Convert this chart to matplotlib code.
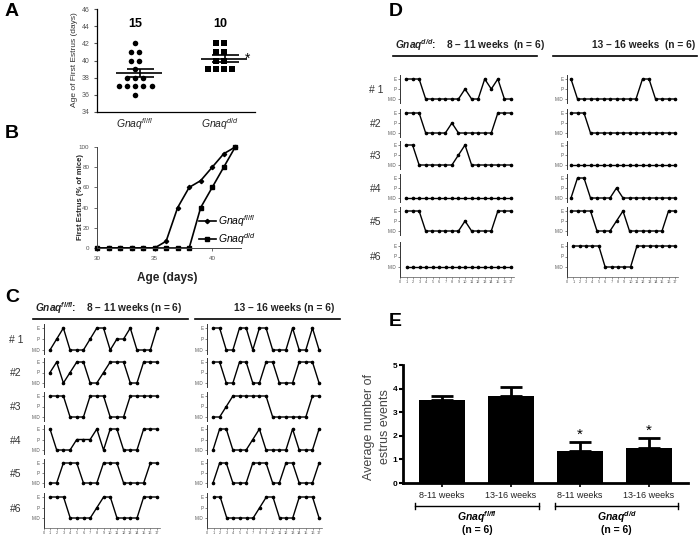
import numpy as np
import matplotlib.pyplot as plt
import matplotlib.transforms as mtransforms

plt.rcParams['font.family'] = ['Liberation Sans', 'DejaVu Sans']
plt.rcParams['mathtext.fontset'] = 'custom'
plt.rcParams['mathtext.rm'] = 'Liberation Sans'
plt.rcParams['mathtext.it'] = 'Liberation Sans:italic'
plt.rcParams['mathtext.bf'] = 'Liberation Sans:bold:italic'

# ---- A: age at first estrus (days), one value per mouse ----
age_flfl = [42, 41, 41, 40, 40, 39, 38, 38, 38, 37, 37, 37, 37, 37, 36]
age_dd = [42, 42, 41, 41, 40, 40, 39, 39, 39, 39]

# ---- B: cumulative % of mice that reached first estrus ----
age_days = [30, 31, 32, 33, 34, 35, 36, 37, 38, 39, 40, 41, 42]
pct_flfl = [0, 0, 0, 0, 0, 0, 6.7, 40, 60, 66.7, 80, 93.3, 100]
pct_dd = [0, 0, 0, 0, 0, 0, 0, 0, 0, 40, 60, 80, 100]

# ---- C / D: daily cycle stage, 0 = M-D, 1 = P, 2 = E ----
cycle_days = list(range(1, 18))
stage_labels = ['M-D', 'P', 'E']

flfl_8_11 = [
    [0, 1, 2, 0, 0, 0, 1, 2, 2, 0, 1, 1, 2, 0, 0, 0, 2],
    [1, 2, 0, 1, 2, 2, 0, 0, 1, 2, 2, 2, 0, 0, 2, 2, 2],
    [2, 2, 2, 0, 0, 0, 2, 2, 2, 0, 0, 0, 2, 2, 2, 2, 2],
    [2, 0, 0, 0, 1, 1, 1, 2, 0, 2, 2, 0, 0, 0, 2, 2, 2],
    [0, 0, 2, 2, 2, 0, 0, 0, 2, 2, 2, 0, 0, 0, 0, 2, 2],
    [2, 2, 2, 0, 0, 0, 0, 1, 2, 2, 0, 0, 0, 0, 2, 2, 2],
]
flfl_13_16 = [
    [2, 2, 0, 0, 2, 2, 0, 2, 2, 0, 0, 0, 2, 0, 0, 2, 0],
    [2, 2, 0, 0, 2, 2, 0, 0, 2, 2, 0, 0, 0, 2, 2, 2, 0],
    [0, 0, 1, 2, 2, 2, 2, 2, 2, 0, 0, 0, 0, 0, 0, 2, 2],
    [0, 2, 2, 0, 0, 0, 1, 2, 0, 0, 0, 0, 2, 0, 0, 0, 2],
    [0, 2, 2, 0, 0, 0, 2, 2, 2, 0, 0, 2, 2, 0, 0, 0, 2],
    [2, 2, 0, 0, 0, 0, 0, 1, 2, 2, 0, 0, 0, 2, 2, 2, 0],
]
dd_8_11 = [
    [2, 2, 2, 0, 0, 0, 0, 0, 0, 1, 0, 0, 2, 1, 2, 0, 0],
    [2, 2, 2, 0, 0, 0, 0, 1, 0, 0, 0, 0, 0, 0, 2, 2, 2],
    [2, 2, 0, 0, 0, 0, 0, 0, 1, 2, 0, 0, 0, 0, 0, 0, 0],
    [0, 0, 0, 0, 0, 0, 0, 0, 0, 0, 0, 0, 0, 0, 0, 0, 0],
    [2, 2, 2, 0, 0, 0, 0, 0, 0, 1, 0, 0, 0, 0, 2, 2, 2],
    [0, 0, 0, 0, 0, 0, 0, 0, 0, 0, 0, 0, 0, 0, 0, 0, 0],
]
dd_13_16 = [
    [2, 0, 0, 0, 0, 0, 0, 0, 0, 0, 0, 2, 2, 0, 0, 0, 0],
    [2, 2, 2, 0, 0, 0, 0, 0, 0, 0, 0, 0, 0, 0, 0, 0, 0],
    [0, 0, 0, 0, 0, 0, 0, 0, 0, 0, 0, 0, 0, 0, 0, 0, 0],
    [0, 2, 2, 0, 0, 0, 0, 1, 0, 0, 0, 0, 0, 0, 0, 0, 0],
    [2, 2, 2, 2, 0, 0, 0, 1, 2, 0, 0, 0, 0, 0, 0, 2, 2],
    [2, 2, 2, 2, 2, 0, 0, 0, 0, 0, 2, 2, 2, 2, 2, 2, 2],
]
mouse_ids = ['# 1', '#2', '#3', '#4', '#5', '#6']

# ---- E: average number of estrus events ----
e_labels = ['8-11 weeks', '13-16 weeks', '8-11 weeks', '13-16 weeks']
e_mean = [3.5, 3.67, 1.35, 1.5]
e_sem = [0.2, 0.4, 0.38, 0.42]
e_star = [False, False, True, True]

W, H = 700, 541
fig = plt.figure(figsize=(7, 5.41), dpi=100)
fig.patch.set_facecolor('white')
TICK = '#555555'


def rect(x0, y0, x1, y1):
    # pixel box (y measured from top) -> figure fraction
    return [x0 / W, 1 - y1 / H, (x1 - x0) / W, (y1 - y0) / H]


def ftext(x, y, s, **kw):
    kw.setdefault('ha', 'center')
    kw.setdefault('va', 'center')
    fig.text(x / W, 1 - y / H, s, **kw)


def fline(x0, x1, y, lw=1.2):
    fig.add_artist(plt.Line2D([x0 / W, x1 / W], [1 - y / H, 1 - y / H],
                              color='black', lw=lw))


# panel letters
for letter, x, y in [('A', 12, 12), ('B', 12, 133), ('C', 12, 297),
                     ('D', 396, 12), ('E', 395, 322)]:
    ftext(x, y, letter, fontsize=14, fontweight='bold')

# ====================== A ======================
axA = fig.add_axes(rect(97, 9, 255, 112))
axA.set_xlim(0.553, 2.41)
axA.set_ylim(34, 46)
for pos, vals, mk in [(1, age_flfl, 'o'), (2, age_dd, 's')]:
    vals = np.array(vals, dtype=float)
    for v in np.unique(vals):
        k = int((vals == v).sum())
        xs = pos + (np.arange(k) - (k - 1) / 2) * 0.097
        axA.plot(xs, [v] * k, mk, color='black', ms=4.0, mew=0)
    m = vals.mean()
    se = vals.std(ddof=1) / np.sqrt(len(vals))
    axA.hlines(m, pos - 0.22, pos + 0.32, color='black', lw=1.2)
    axA.hlines([m - se, m + se], pos - 0.1, pos + 0.22, color='black', lw=1.2)
    axA.vlines(pos + 0.06, m - se, m + se, color='black', lw=1.2)
    axA.text(pos, 44.3, str(len(vals)), ha='center', va='center',
             fontsize=9, fontweight='bold')
axA.text(2.32, 40.15, '*', ha='center', va='center', fontsize=10)
axA.set_yticks(range(34, 47, 2))
axA.set_xticks([1, 2])
axA.set_xticklabels([r'$\mathit{Gnaq}^{\mathit{fl/fl}}$', r'$\mathit{Gnaq}^{\mathit{d/d}}$'],
                    fontsize=7.5)
axA.tick_params(axis='y', labelsize=5, colors=TICK, length=2, width=0.8)
axA.tick_params(axis='x', length=0, pad=3, labelcolor='#222222')
for s in ['top', 'right']:
    axA.spines[s].set_visible(False)
for s in ['left', 'bottom']:
    axA.spines[s].set_linewidth(0.9)
ftext(74, 60, 'Age of First Estrus (days)', rotation=90, fontsize=6, color='#333333')

# ====================== B ======================
axB = fig.add_axes(rect(97, 147, 241, 248))
axB.set_xlim(30, 42.5)
axB.set_ylim(0, 100)
axB.plot(age_days, pct_flfl, '-D', color='black', lw=1.2, ms=2.2,
         clip_on=False, label=r'$\mathit{Gnaq}^{\mathit{fl/fl}}$')
axB.plot(age_days, pct_dd, '-s', color='black', lw=1.2, ms=2.4,
         clip_on=False, label=r'$\mathit{Gnaq}^{\mathit{d/d}}$')
axB.set_xticks([30, 35, 40])
axB.set_yticks(range(0, 101, 20))
axB.tick_params(labelsize=4.5, colors=TICK, length=2, width=0.6)
for s in ['top', 'right']:
    axB.spines[s].set_visible(False)
for s in ['left', 'bottom']:
    axB.spines[s].set_linewidth(0.7)
    axB.spines[s].set_color('#444444')
axB.legend(loc='lower left', bbox_to_anchor=(199 / W, 1 - 247 / H),
           bbox_transform=fig.transFigure, frameon=False, fontsize=7.5,
           handlelength=1.6, handletextpad=0.2, labelspacing=0.25,
           borderpad=0, borderaxespad=0)
ftext(80, 197, 'First Estrus (% of mice)', rotation=90, fontsize=5.5,
      fontweight='bold', color='#222222')
ftext(167, 278, 'Age (days)', fontsize=8.5, fontweight='bold', color='#222222')


# ====================== C / D rows ======================
def cycle_rows(data, x_spine, x_d1, step, e_ys, md_ys, y_axis):
    x_lo = 1 - (x_d1 - x_spine) / step
    x_right = x_d1 + 16.5 * step
    for i, (vals, ye, ym) in enumerate(zip(data, e_ys, md_ys)):
        unit = (ym - ye) / 2
        last = i == len(data) - 1
        y_bot = y_axis if last else ym + 0.4 * unit
        y_top = ye - 0.4 * unit
        ax = fig.add_axes(rect(x_spine, y_top, x_right, y_bot))
        ax.set_xlim(x_lo, 17.5)
        ax.set_ylim(-(y_bot - ym) / unit, 2 + (ye - y_top) / unit)
        ax.plot(cycle_days, vals, '-o', color='black', lw=1.0, ms=1.6,
                clip_on=False)
        ax.set_yticks([0, 1, 2])
        ax.set_yticklabels(stage_labels)
        ax.tick_params(axis='y', labelsize=3.3, colors=TICK, length=1.5,
                       width=0.5, pad=1)
        for s in ['top', 'right']:
            ax.spines[s].set_visible(False)
        ax.spines['left'].set_linewidth(0.7)
        ax.spines['left'].set_color('#333333')
        if last:
            ax.set_xticks(range(0, 18))
            ax.tick_params(axis='x', labelsize=2.8, colors=TICK, length=1.2,
                           width=0.4, pad=0.8)
            ax.spines['bottom'].set_linewidth(0.5)
            ax.spines['bottom'].set_color('#555555')
        else:
            ax.spines['bottom'].set_visible(False)
            ax.set_xticks([])
        ax.patch.set_alpha(0)


def row_labels(x, e_ys, md_ys):
    for lab, ye, ym in zip(mouse_ids, e_ys, md_ys):
        ftext(x, (ye + ym) / 2 + 1, lab, fontsize=7.5, color='#333333')


c_e = [328, 362, 396, 429, 463, 497]
c_md = [350, 383, 417, 450, 483, 518]
cycle_rows(flfl_8_11, 43.5, 50, 6.69, c_e, c_md, 528)
cycle_rows(flfl_13_16, 207, 213, 6.63, c_e, c_md, 528)
row_labels(16, c_e, c_md)

d_e = [79, 113, 145, 178, 211, 246]
d_md = [99, 133, 165, 198, 231, 267]
cycle_rows(dd_8_11, 400, 406, 6.56, d_e, d_md, 277)
cycle_rows(dd_13_16, 567, 571, 6.5, d_e, d_md, 277)
row_labels(376, d_e, d_md)

# headers
ftext(35, 308, r'$\mathbf{Gnaq^{fl/fl}}$:    8 – 11 weeks (n = 6)', ha='left',
      fontsize=7.3, fontweight='bold', color='#222222')
fline(33, 188, 319)
ftext(284, 308, '13 – 16 weeks (n = 6)', fontsize=7.3, fontweight='bold',
      color='#222222')
fline(195, 340, 319)

ftext(395, 45, r'$\mathbf{Gnaq^{d/d}}$:    8 – 11 weeks  (n = 6)', ha='left',
      fontsize=7.3, fontweight='bold', color='#222222')
fline(393, 537, 56)
ftext(644, 45, '13 – 16 weeks  (n = 6)', fontsize=7.3, fontweight='bold',
      color='#222222')
fline(553, 697, 56)

# ====================== E ======================
axE = fig.add_axes(rect(403, 365, 688, 483))
xE = np.arange(len(e_mean))
axE.bar(xE, e_mean, width=0.68, color='black')
axE.errorbar(xE, e_mean, yerr=[np.zeros(len(e_sem)), e_sem], fmt='none',
             ecolor='black', elinewidth=2, capsize=8, capthick=2)
for x, m, s, star in zip(xE, e_mean, e_sem, e_star):
    if star:
        axE.text(x, m + s + 0.3, '*', ha='center', va='center', fontsize=11)
axE.set_xlim(-0.565, 3.565)
axE.set_ylim(0, 5)
axE.set_yticks(range(0, 6))
axE.set_xticks(xE)
axE.set_xticklabels(e_labels, fontsize=6.5, color='#222222')
axE.tick_params(axis='y', labelsize=6, length=3, width=1.5, pad=1)
axE.tick_params(axis='x', length=3, width=1.2, pad=3)
for lab in axE.get_yticklabels():
    lab.set_fontweight('bold')
for s in ['top', 'right']:
    axE.spines[s].set_visible(False)
for s in ['left', 'bottom']:
    axE.spines[s].set_linewidth(2)
ftext(377, 427, 'Average number of\nestrus events', rotation=90, fontsize=9,
      color='#444444', linespacing=1.35)

# group brackets under the bars
tr = mtransforms.blended_transform_factory(axE.transData, axE.transAxes)
yb = -0.197
for (a, b), lab in [((-0.39, 1.41), r'$\mathbf{Gnaq^{fl/fl}}$'),
                    ((1.64, 3.42), r'$\mathbf{Gnaq^{d/d}}$')]:
    axE.plot([a, b], [yb, yb], color='black', lw=1, transform=tr, clip_on=False)
    for xe in (a, b):
        axE.plot([xe, xe], [yb - 0.025, yb + 0.025], color='black', lw=1,
                 transform=tr, clip_on=False)
    axE.text((a + b) / 2, -0.29, lab, transform=tr, ha='center', va='center',
             fontsize=7.5)
    axE.text((a + b) / 2, -0.40, '(n = 6)', transform=tr, ha='center',
             va='center', fontsize=7.5, fontweight='bold')

fig.savefig('out.png', dpi=100)
